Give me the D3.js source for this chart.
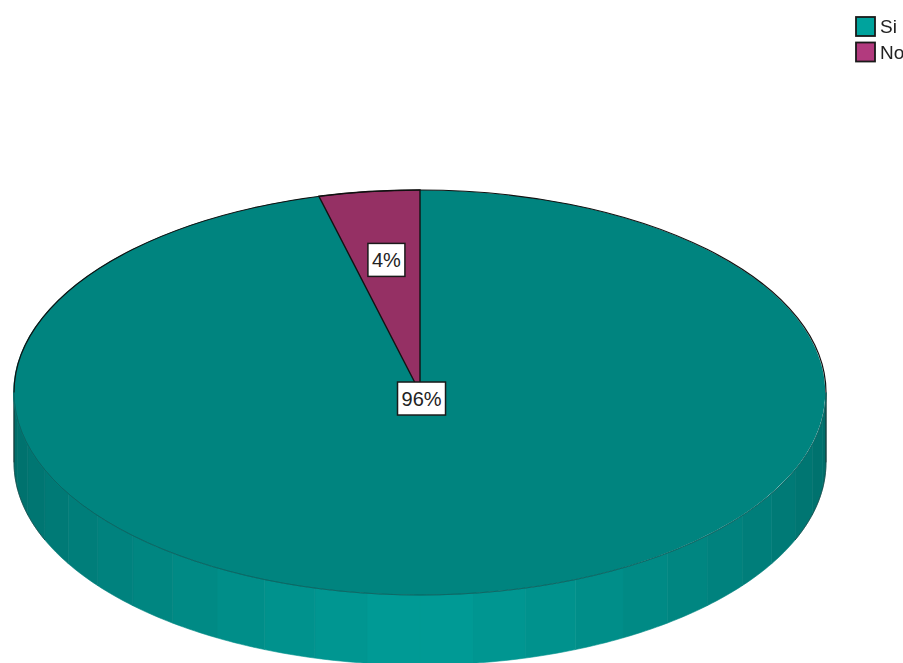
<!DOCTYPE html>
<html>
<head>
<meta charset="utf-8">
<script src="https://cdn.jsdelivr.net/npm/d3@7"></script>
<style>
html, body { margin: 0; padding: 0; background: #fff; overflow: hidden; }
svg { display: block; filter: blur(0.6px); }
text { font-family: "Liberation Sans", Arial, sans-serif; }
</style>
</head>
<body>
<script>
var categories = ["Si", "No"];
var values = [96, 4];
var topColors = ["#00847f", "#953064"];
var legendColors = ["#00a39d", "#b23a7e"];

var width = 903, height = 663;
var cx = 420, cy = 392.5, rx = 406, ry = 202.5, depth = 70;
var bandStep = Math.PI / 24;

var svg = d3.select("body").append("svg")
    .attr("width", width)
    .attr("height", height);

// side wall of the disc, split in bands like the original
var shade = d3.scaleLinear()
    .domain([0, Math.PI / 2, Math.PI])
    .range(["#006c68", "#009c97", "#006c68"]);

var wall = d3.area()
    .x(function (t) { return cx + rx * Math.cos(t); })
    .y0(function (t) { return cy + ry * Math.sin(t); })
    .y1(function (t) { return cy + ry * Math.sin(t) + depth; });

svg.append("g").selectAll("path")
    .data(d3.range(0, 24))
    .enter().append("path")
    .attr("d", function (i) {
        var a0 = i * bandStep;
        return wall(d3.range(0, 9).map(function (k) { return a0 + bandStep * k / 8; }));
    })
    .attr("fill", function (i) { return shade((i + 0.5) * bandStep); })
    .attr("stroke", function (i) { return shade((i + 0.5) * bandStep); })
    .attr("stroke-width", 0.6);

// dark edges where the wall turns away, left and right
var edge = d3.line()
    .x(function (t) { return cx + rx * Math.cos(t); })
    .y(function (t) { return cy + depth + ry * Math.sin(t); });

svg.append("g").selectAll("path")
    .data([0, Math.PI - bandStep * 3])
    .enter().append("path")
    .attr("d", function (a0) {
        return edge(d3.range(0, 17).map(function (k) { return a0 + bandStep * 3 * k / 16; }));
    })
    .attr("fill", "none")
    .attr("stroke", "#1c3a3a")
    .attr("stroke-opacity", 0.6)
    .attr("stroke-width", 1);

svg.append("g").selectAll("line")
    .data([-1, 1])
    .enter().append("line")
    .attr("x1", function (d) { return cx + d * rx; })
    .attr("x2", function (d) { return cx + d * rx; })
    .attr("y1", cy)
    .attr("y2", cy + depth)
    .attr("stroke", "#1c3a3a")
    .attr("stroke-width", 1.2);

// top face: unit radius arcs squashed into an ellipse
var topFace = svg.append("g")
    .attr("transform", "translate(" + cx + "," + cy + ") scale(" + rx + "," + ry + ")");

var pie = d3.pie().sort(null);
var slices = pie(values);
var arc = d3.arc().innerRadius(0).outerRadius(1);

topFace.selectAll(".slice")
    .data(slices)
    .enter().append("path")
    .attr("class", "slice")
    .attr("d", arc)
    .attr("fill", function (d, i) { return topColors[i]; })
    .attr("stroke", function (d, i) { return i == 1 ? "#111" : "none"; })
    .attr("stroke-width", 1.4)
    .attr("vector-effect", "non-scaling-stroke");

var rim = d3.arc().innerRadius(1).outerRadius(1);
topFace.append("path")
    .attr("d", rim({startAngle: Math.PI / 2, endAngle: Math.PI * 1.5}))
    .attr("fill", "none")
    .attr("stroke", "#0b6461")
    .attr("stroke-width", 0.7)
    .attr("vector-effect", "non-scaling-stroke");
topFace.append("path")
    .attr("d", rim({startAngle: -Math.PI / 2, endAngle: Math.PI / 2}))
    .attr("fill", "none")
    .attr("stroke", "#111")
    .attr("stroke-width", 1.2)
    .attr("vector-effect", "non-scaling-stroke");

// value labels
var labels = svg.append("g").selectAll("g")
    .data(slices)
    .enter().append("g")
    .attr("transform", function (d) {
        var mid = (d.startAngle + d.endAngle) / 2;
        var r = d.value > 50 ? 0.03 : 0.66;
        return "translate(" + (cx + rx * r * Math.sin(mid) ) + "," + (cy - ry * r * Math.cos(mid)) + ")";
    });

labels.append("rect")
    .attr("x", function (d) { return d.value > 50 ? -24 : -18.5; })
    .attr("y", -16.5)
    .attr("width", function (d) { return d.value > 50 ? 48 : 37; })
    .attr("height", 33)
    .attr("fill", "#fff")
    .attr("stroke", "#1a1a1a")
    .attr("stroke-width", 1.5);

labels.append("text")
    .attr("text-anchor", "middle")
    .attr("y", 7)
    .attr("font-size", 20)
    .attr("fill", "#222")
    .text(function (d) { return d.value + "%"; });

// legend
var legend = svg.append("g").selectAll("g")
    .data(categories)
    .enter().append("g")
    .attr("transform", function (d, i) { return "translate(856," + (17 + i * 25.5) + ")"; });

legend.append("rect")
    .attr("width", 19)
    .attr("height", 19)
    .attr("fill", function (d, i) { return legendColors[i]; })
    .attr("stroke", "#1a1a1a")
    .attr("stroke-width", 1.8);

legend.append("text")
    .attr("x", 24)
    .attr("y", 16)
    .attr("font-size", 19)
    .attr("fill", "#222")
    .text(function (d) { return d; });
</script>
</body>
</html>
